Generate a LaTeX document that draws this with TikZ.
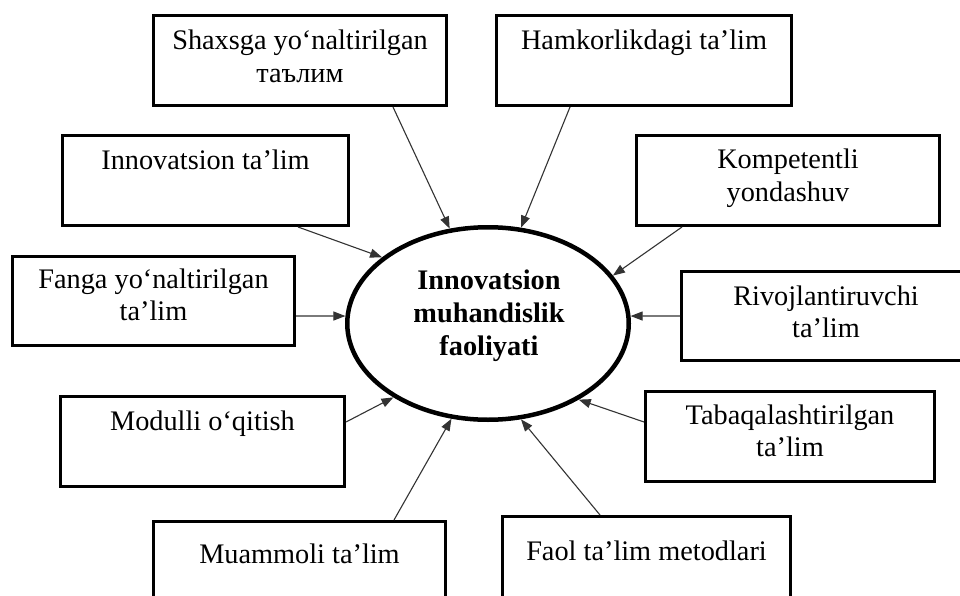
\documentclass[tikz,border=0pt]{standalone}
\usepackage{fontspec}
\setmainfont{Liberation Serif}
\usetikzlibrary{arrows.meta,shapes.geometric}
\setlength{\tabcolsep}{0pt}
\newcommand{\mylines}[1]{\begin{tabular}[t]{@{}c@{}}#1\end{tabular}}
\begin{document}
\begin{tikzpicture}[x=1pt,y=-1pt,
  box/.style={draw=black, line width=2.6pt, rectangle, inner sep=0pt, minimum height=90.4pt},
  lbl/.style={inner sep=0pt, anchor=base, font=\fontsize{28.3}{32.5}\selectfont},
  conn/.style={line width=1.1pt, draw=black!80, -{Triangle[length=12pt,width=9pt]}}]
\useasboundingbox (0,0) rectangle (960,596);
\clip (0,0) rectangle (960,596);
\fill[white] (0,0) rectangle (960,596);
% boxes
\node[box, minimum width=293.4pt] (A) at (300,60.5) {};
\node[box, minimum width=295.4pt] (B) at (644,60.5) {};
\node[box, minimum width=286.4pt] (C) at (205.5,180.5) {};
\node[box, minimum width=303.4pt] (D) at (788,180.5) {};
\node[box, minimum width=282.4pt, minimum height=89.4pt] (E) at (153.5,301) {};
\node[box, minimum width=289.4pt, minimum height=89.4pt] (F) at (826,316) {};
\node[box, minimum width=284.4pt] (G) at (202.5,441.5) {};
\node[box, minimum width=289.4pt] (H) at (790,436.5) {};
\node[box, minimum width=292.4pt] (I) at (299.5,566.5) {};
\node[box, minimum width=288.4pt] (J) at (646.5,561.5) {};
% centre ellipse
\node[ellipse, draw=black, line width=4.5pt, inner sep=0pt, minimum width=281.5pt, minimum height=192.5pt] (ell) at (488,323.5) {};
% texts
\node[lbl] (tA) at ([yshift=-36pt]A.north) {\mylines{Shaxsga yo‘naltirilgan\\таълим}};
\node[lbl] (tB) at ([yshift=-36pt]B.north) {Hamkorlikdagi ta’lim};
\node[lbl] (tC) at ([yshift=-36pt]C.north) {Innovatsion ta’lim};
\node[lbl] (tD) at ([yshift=-35pt]D.north) {\mylines{Kompetentli\\yondashuv}};
\node[lbl] (tE) at ([yshift=-33pt]E.north) {\mylines{Fanga yo‘naltirilgan\\ta’lim}};
\node[lbl] (tF) at ([yshift=-35pt]F.north) {\mylines{Rivojlantiruvchi\\ta’lim}};
\node[lbl] (tG) at ([yshift=-35pt]G.north) {Modulli o‘qitish};
\node[lbl] (tH) at ([yshift=-34pt]H.north) {\mylines{Tabaqalashtirilgan\\ta’lim}};
\node[lbl] (tI) at ([yshift=-43pt]I.north) {Muammoli ta’lim};
\node[lbl] (tJ) at ([yshift=-45.5pt]J.north) {Faol ta’lim metodlari};
\node[lbl, font=\fontsize{28.3}{33}\selectfont\bfseries] (tell) at (489,289) {\mylines{Innovatsion\\muhandislik\\faoliyati}};
% connectors
\draw[conn] ([xshift=93pt]A.south) -- (ell.112);
\draw[conn] ([xshift=-74pt]B.south) -- (ell.71);
\draw[conn] ([xshift=92.5pt]C.south) -- (ell.148);
\draw[conn] ([xshift=-106pt]D.south) -- (ell.21);
\draw[conn] ([yshift=-15pt]E.east) -- (ell.177);
\draw[conn] (F.west) -- (ell.3);
\draw[conn] ([yshift=19.5pt]G.east) -- (ell.218);
\draw[conn] ([yshift=14.5pt]H.west) -- (ell.320);
\draw[conn] ([xshift=94.5pt]I.north) -- (ell.249);
\draw[conn] ([xshift=-46.5pt]J.north) -- (ell.289);
\end{tikzpicture}
\end{document}
